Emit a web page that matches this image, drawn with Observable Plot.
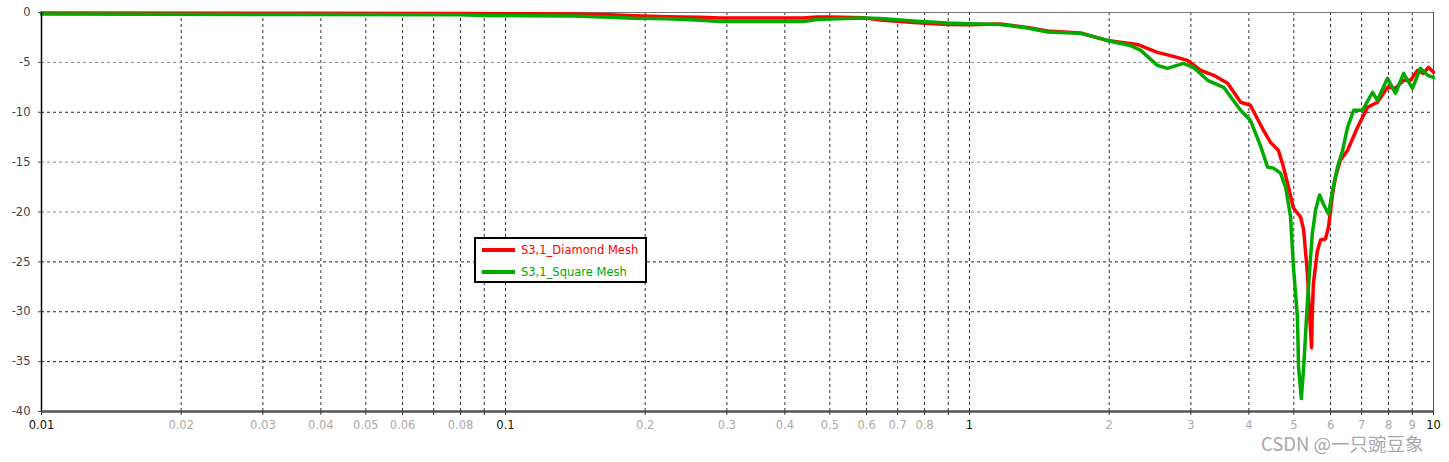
<!DOCTYPE html>
<html><head><meta charset="utf-8">
<script src="https://cdn.jsdelivr.net/npm/d3@7"></script>
<script src="https://cdn.jsdelivr.net/npm/@observablehq/plot@0.6"></script>
<style>
body{margin:0;background:#fff;}
#wrap{position:relative;width:1449px;height:462px;overflow:hidden;}
#legend{position:absolute;left:474px;top:237px;width:169px;height:42px;border:2px solid #000;background:#fff;font-family:"DejaVu Sans",sans-serif;font-size:11.5px;}
.row{position:absolute;left:6px;height:14px;display:flex;align-items:center;}
.sw{width:33px;height:4px;margin-right:6px;}
#wm{position:absolute;left:1261px;top:430px;font-family:"Noto Sans CJK SC",sans-serif;font-size:18.5px;color:#a8a8a8;white-space:nowrap;}
</style></head><body><div id="wrap"></div>
<script>
const seriesNames = ["S3,1_Diamond Mesh", "S3,1_Square Mesh"];
const seriesColors = ["#ff0000", "#00aa00"];

const diamondFreq = [0.01,0.036,0.08,0.109,0.14,0.168,0.189,0.223,0.263,0.29,0.438,0.47,0.501,0.59,0.643,0.757,0.897,1.0,1.166,1.334,1.472,1.734,1.98,2.30,2.54,2.75,2.95,3.15,3.36,3.60,3.84,4.03,4.30,4.45,4.63,4.75,4.87,4.99,5.17,5.25,5.35,5.41,5.46,5.48,5.51,5.62,5.71,5.85,5.94,6.06,6.15,6.30,6.53,6.86,7.21,7.57,7.96,8.28,8.62,8.92,9.24,9.51,9.75,10];
const diamondDb = [-0.05,-0.08,-0.1,-0.12,-0.15,-0.22,-0.33,-0.42,-0.47,-0.55,-0.55,-0.45,-0.45,-0.52,-0.75,-1.0,-1.2,-1.22,-1.15,-1.5,-1.85,-2.05,-2.8,-3.2,-4.0,-4.4,-4.8,-5.8,-6.3,-7.1,-9.0,-9.3,-11.8,-13.0,-13.8,-15.5,-17.5,-19.6,-20.5,-21.8,-26.2,-30.5,-33.6,-30.2,-27.2,-23.9,-22.8,-22.7,-21.5,-18.2,-16.5,-14.8,-13.8,-11.5,-9.5,-9.0,-7.5,-7.6,-6.8,-6.8,-5.8,-6.1,-5.5,-6.0];

const squareFreq = [0.01,0.036,0.08,0.09,0.109,0.14,0.168,0.189,0.223,0.263,0.29,0.438,0.47,0.501,0.59,0.643,0.757,0.897,1.0,1.166,1.334,1.472,1.734,1.98,2.22,2.34,2.54,2.67,2.89,3.04,3.26,3.53,3.84,4.03,4.24,4.39,4.52,4.68,4.80,4.92,4.99,5.09,5.12,5.19,5.25,5.35,5.48,5.57,5.68,5.79,5.94,6.06,6.21,6.37,6.53,6.73,7.03,7.39,7.57,7.96,8.28,8.62,9.01,9.37,9.71,10];
const squareDb = [-0.15,-0.2,-0.22,-0.3,-0.32,-0.35,-0.47,-0.57,-0.63,-0.78,-0.9,-0.9,-0.7,-0.65,-0.55,-0.6,-0.85,-1.05,-1.12,-1.2,-1.55,-1.95,-2.07,-2.8,-3.3,-3.8,-5.3,-5.6,-5.1,-5.5,-6.8,-7.5,-9.8,-10.8,-13.4,-15.5,-15.6,-16.1,-17.5,-20.5,-25.5,-30.5,-35.6,-38.7,-35.6,-28.9,-22.2,-19.8,-18.3,-19.2,-20.2,-17.8,-15.5,-13.8,-11.5,-9.8,-9.8,-8.0,-8.8,-6.6,-8.1,-6.1,-7.6,-5.6,-6.3,-6.5];

const xGridTicks = [0.02,0.03,0.04,0.05,0.06,0.07,0.08,0.09,0.1,0.2,0.3,0.4,0.5,0.6,0.7,0.8,0.9,1,2,3,4,5,6,7,8,9];
const xAllTicks = [0.01,0.02,0.03,0.04,0.05,0.06,0.07,0.08,0.09,0.1,0.2,0.3,0.4,0.5,0.6,0.7,0.8,0.9,1,2,3,4,5,6,7,8,9,10];
const xDecadeLabels = [0.01,0.1,1,10];
const xMinorLabels = [0.02,0.03,0.04,0.05,0.06,0.08,0.2,0.3,0.4,0.5,0.6,0.7,0.8,2,3,4,5,6,7,8,9];
const yTicks = [0,-5,-10,-15,-20,-25,-30,-35,-40];
const yGridDark = [-10,-25,-30,-35];
const yGridLight = [-5,-15,-20];

const diamond = diamondFreq.map((f,i)=>({f, db: diamondDb[i]}));
const square = squareFreq.map((f,i)=>({f, db: squareDb[i]}));

const chart = Plot.plot({
  width: 1449, height: 462,
  marginLeft: 41, marginRight: 16, marginTop: 12, marginBottom: 51,
  x: {type: "log", domain: [0.01, 10], label: null},
  y: {domain: [-40, 0], label: null},
  style: {fontFamily: "DejaVu Sans, sans-serif", fontSize: "11.5px", background: "white", overflow: "visible"},
  marks: [
    Plot.ruleX(xGridTicks, {stroke: "#333", strokeDasharray: "3,3"}),
    Plot.ruleY(yGridDark, {stroke: "#222", strokeDasharray: "3,3"}),
    Plot.ruleY(yGridLight, {stroke: "#888", strokeDasharray: "3,3"}),
    Plot.ruleY([0], {stroke: "#777"}),
    Plot.ruleX([10], {stroke: "#555"}),
    Plot.line(diamond, {x: "f", y: "db", stroke: seriesColors[0], strokeWidth: 3.5}),
    Plot.line(square, {x: "f", y: "db", stroke: seriesColors[1], strokeWidth: 3.5}),
    Plot.ruleX([0.01], {stroke: "#000", strokeWidth: 1.5}),
    Plot.ruleY([-40], {stroke: "#555", strokeWidth: 2.5}),
    Plot.axisX({ticks: xAllTicks, tickSize: 4, tickFormat: () => "", stroke: "#333"}),
    Plot.text(xDecadeLabels, {x: d => d, text: d => String(d), frameAnchor: "bottom", dy: 17, fill: "#111"}),
    Plot.text(xMinorLabels, {x: d => d, text: d => String(d), frameAnchor: "bottom", dy: 17, fill: "#aaa"}),
    Plot.axisY({ticks: yTicks, tickSize: 3, tickPadding: 8, tickFormat: d => String(d), color: "#444"})
  ]
});
const wrap = document.getElementById("wrap");
wrap.appendChild(chart);

const legend = document.createElement("div");
legend.id = "legend";
seriesNames.forEach((name, i) => {
  const row = document.createElement("div");
  row.className = "row";
  row.style.top = (i === 0 ? 4 : 26) + "px";
  const sw = document.createElement("div");
  sw.className = "sw";
  sw.style.background = seriesColors[i];
  const t = document.createElement("span");
  t.textContent = name;
  t.style.color = seriesColors[i];
  row.appendChild(sw); row.appendChild(t);
  legend.appendChild(row);
});
wrap.appendChild(legend);

const wm = document.createElement("div");
wm.id = "wm";
wm.textContent = "CSDN @一只豌豆象";
wrap.appendChild(wm);
</script>
</body></html>
